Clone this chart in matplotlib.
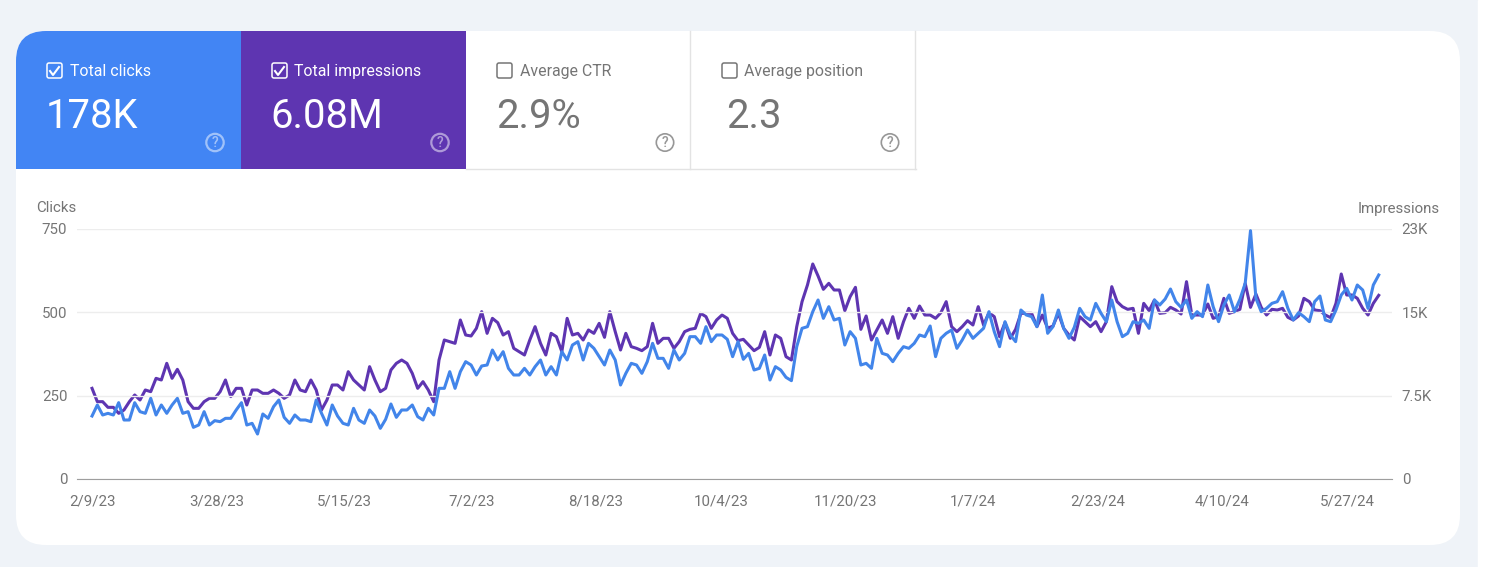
import numpy as np
import matplotlib.pyplot as plt
from matplotlib.patches import FancyBboxPatch, Rectangle, Circle

plt.rcParams['font.family'] = 'Roboto'

tick_labels = ["2/9/23", "3/28/23", "5/15/23", "7/2/23", "8/18/23", "10/4/23", "11/20/23", "1/7/24", "2/23/24", "4/10/24", "5/27/24"]
tick_dates = ["2023-02-09", "2023-03-28", "2023-05-15", "2023-07-02", "2023-08-18", "2023-10-04", "2023-11-20", "2024-01-07", "2024-02-23", "2024-04-10", "2024-05-27"]
card_titles = ["Total clicks", "Total impressions", "Average CTR", "Average position"]
card_values = ["178K", "6.08M", "2.9%", "2.3"]

clicks = [189, 222, 192, 197, 192, 229, 177, 177, 229, 202, 197, 242, 192, 222, 197, 222, 242, 197, 202, 155,
          162, 202, 162, 175, 172, 182, 182, 207, 229, 162, 167, 135, 195, 182, 217, 237, 185, 167, 192, 177,
          177, 172, 237, 197, 162, 222, 189, 167, 162, 212, 177, 167, 207, 189, 152, 179, 225, 185, 207, 207,
          222, 187, 177, 212, 192, 272,
          272, 322, 272, 322, 352, 342, 312, 339, 342, 387, 357, 382, 332, 312, 312, 332, 312, 337, 357, 312,
          337, 312, 382, 357, 402, 412, 357, 407, 392, 367, 342, 387, 357, 282, 317, 347, 342, 317, 352, 407,
          362, 362, 332, 387, 357, 377, 427, 427, 407, 457, 412, 432, 432, 419, 367, 412, 359, 377, 327, 332,
          372, 297, 337, 327, 305, 295, 397, 452,
          457, 502, 537, 482, 517, 477, 482, 402, 442, 422, 342, 347, 332, 422, 377, 372, 352, 377, 397, 392,
          407, 432, 427, 459, 367, 422, 437, 447, 392, 417, 447, 422, 437, 452, 502, 442, 397, 472, 432, 412,
          507, 492, 487, 457, 552, 437, 457, 507, 452, 422, 455, 512,
          487, 477, 527, 497, 472, 537, 472, 427, 437, 472, 467, 477, 452, 537, 522, 540, 570, 532, 515, 537,
          482, 502, 487, 582, 517, 472, 522, 552, 502, 539, 587, 745, 542, 502, 512, 527, 532, 562, 512, 477,
          499, 487, 472, 532, 549, 477, 472, 507, 552, 572, 537, 582, 567, 512, 582, 612]

impressions = [8160, 6960, 6960, 6450, 6450, 5910, 6210, 6960, 7560, 7110, 8010, 7860, 9060, 8910, 10410, 9060, 9870, 8910, 6960, 6360,
               6360, 6960, 7260, 7260, 7860, 8910, 7410, 8160, 8160, 6660, 8010, 8010, 7710, 7710, 8010, 7710, 7260, 7560, 8910, 8010,
               7860, 8910, 8010, 6210, 7110, 8460, 8460, 8010, 9660, 8910, 8460, 8010, 10110, 8910, 7860, 8160, 9810, 10410, 10710, 10410,
               9510, 8160, 8760, 8010, 6960, 10710,
               12510, 12360, 12210, 14310, 12960, 12870, 13560, 15060, 13110, 14460, 14070, 12960, 13260, 11760, 11460, 11160, 12510, 13710, 12210, 11160,
               13110, 12810, 11460, 14460, 12960, 13110, 12510, 13410, 13110, 14010, 12750, 15060, 13260, 11610, 13110, 11910, 11760, 11550, 11910, 14010,
               12210, 12660, 12660, 11760, 12360, 13260, 13470, 13560, 14910, 14610, 13560, 14310, 14760, 14460, 13110, 12450, 12570, 12060, 11550, 11850,
               13260, 11160, 12960, 12660, 11010, 10710, 13710, 15960,
               17460, 19350, 18270, 17070, 17610, 17010, 17010, 15150, 16410, 17250, 13470, 14670, 12510, 13410, 14310, 13110, 14610, 12660, 14160, 15360,
               14460, 15570, 14760, 14760, 14460, 14970, 15960, 13710, 13260, 13710, 14250, 13860, 15510, 13860, 14970, 14610, 12810, 14070, 12660, 13470,
               14910, 14910, 14910, 13710, 14760, 13560, 13770, 14910, 13560, 12960, 12510, 14610,
               14160, 13710, 14160, 13260, 14160, 17310, 15960, 15510, 15270, 15360, 13110, 15810, 15150, 16110, 14910, 14970, 15450, 15210, 14850, 17760,
               14760, 14760, 14760, 15750, 14460, 14610, 16260, 14910, 15060, 15270, 17610, 15450, 16650, 15450, 14760, 15270, 15210, 15360, 14550, 14310,
               14670, 16260, 15960, 15210, 15150, 14760, 14520, 15810, 18450, 16560, 16560, 16260, 15360, 14760, 15810, 16530]

hours = np.linspace(0, 485 * 24, len(clicks)).astype("timedelta64[h]")   #readings spread over the 485 days shown
dates = np.datetime64("2023-02-09T00") + hours
ticks = np.array(tick_dates, dtype="datetime64[D]")

BLUE = "#4285EA"
PURPLE = "#5E35B1"
GREY = "#757575"

plt.figure(figsize=(14.86, 5.67), dpi=100, facecolor="#EFF3F8")

#page layer in pixels of the screenshot

page = plt.axes([0, 0, 1, 1])
page.set_xlim(0, 1486)
page.set_ylim(567, 0)
page.axis("off")

page.add_patch(Rectangle((1478, 0), 8, 567, color="white"))
panel = FancyBboxPatch((46, 61), 1384, 454, boxstyle="round,pad=30,rounding_size=30", fc="white", ec="none")
page.add_patch(panel)

card_fill = ["#4285F4", PURPLE, "white", "white"]
value_shift = [30, 29.5, 30, 35]                             #the last number sits a bit further in
for i in range(4):
    left = 16 + 225 * i
    card = Rectangle((left, 31), 225, 138, fc=card_fill[i], ec="none")
    page.add_patch(card)
    card.set_clip_path(panel)
    if i >= 2:                                               #unselected cards only have thin borders
        page.plot([left + 224, left + 224], [31, 169], color="#E3E3E3", lw=1)
    front = "white" if i < 2 else GREY
    page.add_patch(FancyBboxPatch((left + 32, 64), 13, 13, boxstyle="round,pad=1,rounding_size=2", fc="none", ec=front, lw=1.1))
    if i < 2:
        page.plot([left + 34, left + 37, left + 43], [71, 75, 67], color="white", lw=1.5)
    page.text(left + 53.5, 71.5, card_titles[i], color=front, fontsize=11.4, va="center", ha="left")
    page.text(left + value_shift[i], 117, card_values[i], color=front, fontsize=28.8, va="center", ha="left")
    help_alpha = 0.5 if i < 2 else 0.75
    page.add_patch(Circle((left + 199, 142.5), 8.7, fc="none", ec=front, lw=1.6 if i < 2 else 1.2, alpha=help_alpha))
    page.text(left + 199, 143, "?", color=front, alpha=help_alpha, fontsize=10, fontweight="medium", va="center", ha="center")
page.plot([466, 916], [168.5, 168.5], color="#E3E3E3", lw=1)

page.text(36, 208.5, "Clicks", color=GREY, fontsize=10.8, va="center", ha="left")
page.text(1440, 208.5, "Impressions", color=GREY, fontsize=10.8, va="center", ha="right")

#chart layer

plt.axes([77 / 1486, 1 - 479 / 567, (1392 - 77) / 1486, 250 / 567], facecolor="none")
plt.plot(dates, clicks, color=BLUE, lw=2.2, zorder=3)
plt.xlim(np.datetime64("2023-02-03T08"), np.datetime64("2024-06-13T00"))
plt.ylim(0, 750)
plt.yticks([0, 250, 500, 750], ["0", "250", "500", "750"])
plt.xticks(ticks, tick_labels)
plt.grid(axis="y", color="#EDEDED", lw=1)
plt.tick_params(axis="both", length=0, labelsize=10.8, labelcolor=GREY)
plt.tick_params(axis="x", pad=11)
plt.tick_params(axis="y", pad=7)
for side in ["top", "left", "right"]:
    plt.gca().spines[side].set_visible(False)
plt.gca().spines["bottom"].set_color("#9E9E9E")
plt.gca().set_zorder(3)

right = plt.twinx()
right.plot(dates, impressions, color=PURPLE, lw=2.2, zorder=2)
right.set_ylim(0, 22500)
right.set_yticks([0, 7500, 15000, 22500], ["0", "7.5K", "15K", "23K"])
right.tick_params(axis="y", length=0, labelsize=10.8, labelcolor=GREY, pad=7)
for side in ["top", "left", "right", "bottom"]:
    right.spines[side].set_visible(False)
right.set_zorder(2)

plt.savefig("out.png", dpi=100, facecolor=plt.gcf().get_facecolor())
